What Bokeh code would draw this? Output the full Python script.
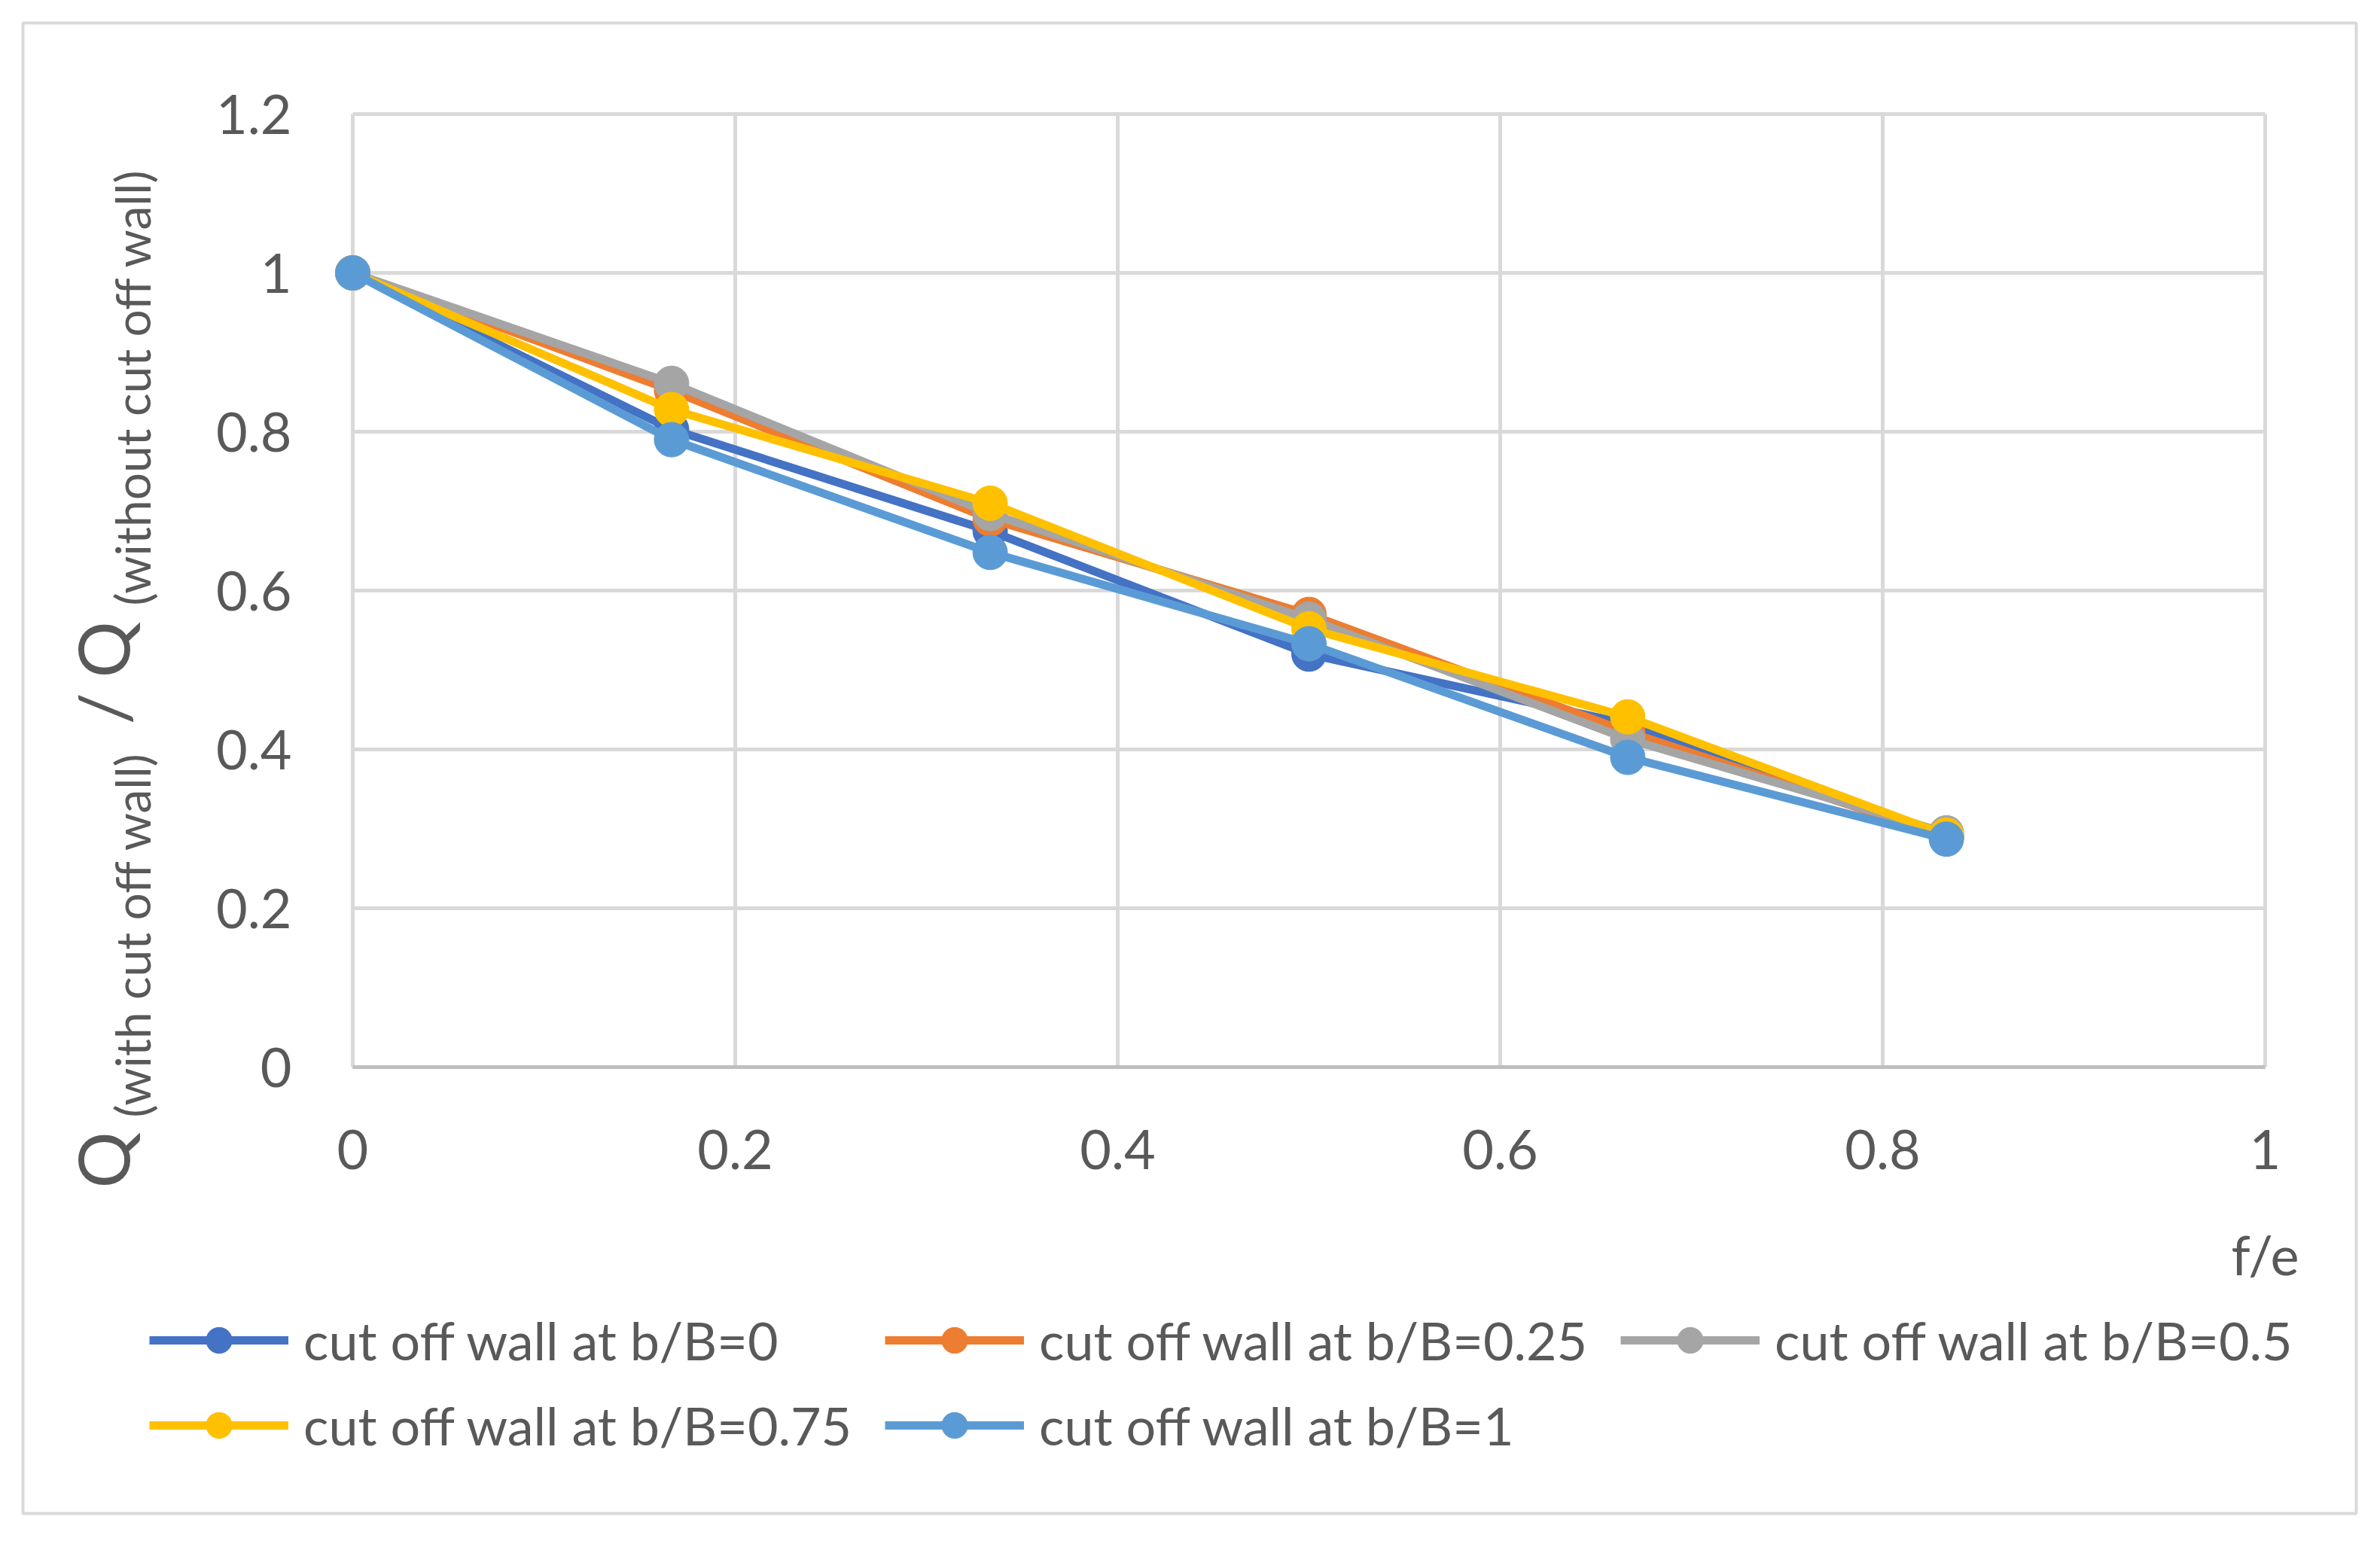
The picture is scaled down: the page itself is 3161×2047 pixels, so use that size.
import math
from bokeh.plotting import figure
from bokeh.models import Legend, LegendItem
from bokeh.core.properties import value
from bokeh.embed import file_html
from bokeh.resources import INLINE

# ---------------- data ----------------
f_e = [0, 0.1667, 0.3333, 0.5, 0.6667, 0.8333]
q_b0 = [1.0, 0.803, 0.675, 0.520, 0.432, 0.290]
q_b025 = [1.0, 0.852, 0.690, 0.570, 0.422, 0.290]
q_b05 = [1.0, 0.861, 0.697, 0.564, 0.413, 0.295]
q_b075 = [1.0, 0.828, 0.710, 0.552, 0.441, 0.292]
q_b1 = [1.0, 0.790, 0.648, 0.533, 0.390, 0.287]

series_names = ["cut off wall at b/B=0", "cut off wall at b/B=0.25",
                "cut off wall at b/B=0.5", "cut off wall at b/B=0.75",
                "cut off wall at b/B=1"]
series_values = [q_b0, q_b025, q_b05, q_b075, q_b1]
series_colors = ["#4472C4", "#ED7D31", "#A5A5A5", "#FFC000", "#5B9BD5"]

x_ticks = [0, 0.2, 0.4, 0.6, 0.8, 1]
x_tick_labels = ["0", "0.2", "0.4", "0.6", "0.8", "1"]
y_ticks = [0, 0.2, 0.4, 0.6, 0.8, 1, 1.2]
y_tick_labels = ["0", "0.2", "0.4", "0.6", "0.8", "1", "1.2"]
x_title = "f/e"
y_title_parts = ["Q", "(with cut off wall)", "/", "Q", "(without cut off wall)"]

# ---------------- layout (canvas pixels) ----------------
W, H = 3153, 2039
PL, PR, PT, PB = 468, 3008, 151, 1417      # plot-area edges
XMIN, XMAX = x_ticks[0], x_ticks[-1]
YMIN, YMAX = y_ticks[0], y_ticks[-1]
SX = (XMAX - XMIN) / (PR - PL)
SY = (YMAX - YMIN) / (PB - PT)

def px_x(cx):
    return XMIN + (cx - PL) * SX

def px_y(cy):
    return YMIN + (PB - cy) * SY

FONT = "Lato"
TXT = "#595959"
GRID = "#d9d9d9"

p = figure(width=W, height=H, output_backend="svg", toolbar_location=None,
           x_range=(px_x(0), px_x(W)), y_range=(px_y(H), px_y(0)),
           min_border=0)
p.axis.visible = False
p.grid.visible = False
p.background_fill_color = "white"
p.border_fill_color = "white"
p.outline_line_color = None

# outer chart border
p.quad(left=[px_x(30)], right=[px_x(3129)], top=[px_y(30)], bottom=[px_y(2010)],
       fill_alpha=0, line_color=GRID, line_width=4)

# gridlines
p.segment(x0=x_ticks, y0=[YMIN] * len(x_ticks), x1=x_ticks, y1=[YMAX] * len(x_ticks),
          line_color=GRID, line_width=5)
p.segment(x0=[XMIN] * len(y_ticks), y0=y_ticks, x1=[XMAX] * len(y_ticks), y1=y_ticks,
          line_color=GRID, line_width=5)
# x axis line
p.segment(x0=[XMIN], y0=[YMIN], x1=[XMAX], y1=[YMIN], line_color="#bfbfbf", line_width=5)

# tick labels
p.text(x=x_ticks, y=[px_y(1526)] * len(x_ticks), text=x_tick_labels,
       text_align="center", text_baseline="middle", text_font=value(FONT),
       text_font_size="72px", text_color=TXT)
p.text(x=[px_x(387)] * len(y_ticks), y=y_ticks, text=y_tick_labels,
       text_align="right", text_baseline="middle", text_font=value(FONT),
       text_font_size="72px", text_color=TXT)

# x-axis title
p.text(x=[px_x(3008)], y=[px_y(1665)], text=[x_title], text_align="center",
       text_baseline="alphabetic", text_font=value(FONT), text_font_size="72px",
       text_color=TXT)

# y-axis title (rotated, with subscripts)
yt_x = [px_x(135), px_x(175), px_x(135), px_x(135), px_x(175)]
yt_y = [px_y(1578), px_y(1484), px_y(962), px_y(900), px_y(804)]
yt_fs = ["94px", "64px", "94px", "94px", "64px"]
p.text(x=yt_x, y=yt_y, text=y_title_parts, angle=math.pi / 2,
       text_align="left", text_baseline="alphabetic", text_font=value(FONT),
       text_font_size=yt_fs, text_color=TXT)

# series
items = []
for name, vals, col in zip(series_names, series_values, series_colors):
    lr = p.line(f_e, vals, line_color=col, line_width=11)
    sr = p.scatter(f_e, vals, size=46, fill_color=col, line_color=col, line_width=1)
    items.append(LegendItem(label=name, renderers=[lr, sr]))

legend = Legend(items=items, orientation="horizontal", ncols=3,
                location=(198, H - 1936),
                glyph_width=185, glyph_height=86, label_standoff=20,
                label_width=745, label_height=86, spacing=27,
                padding=0, margin=0, border_line_color=None,
                background_fill_alpha=0,
                label_text_font=FONT, label_text_font_size="70px",
                label_text_color=TXT)
p.add_layout(legend)

open("out.html", "w").write(file_html(p, INLINE))
